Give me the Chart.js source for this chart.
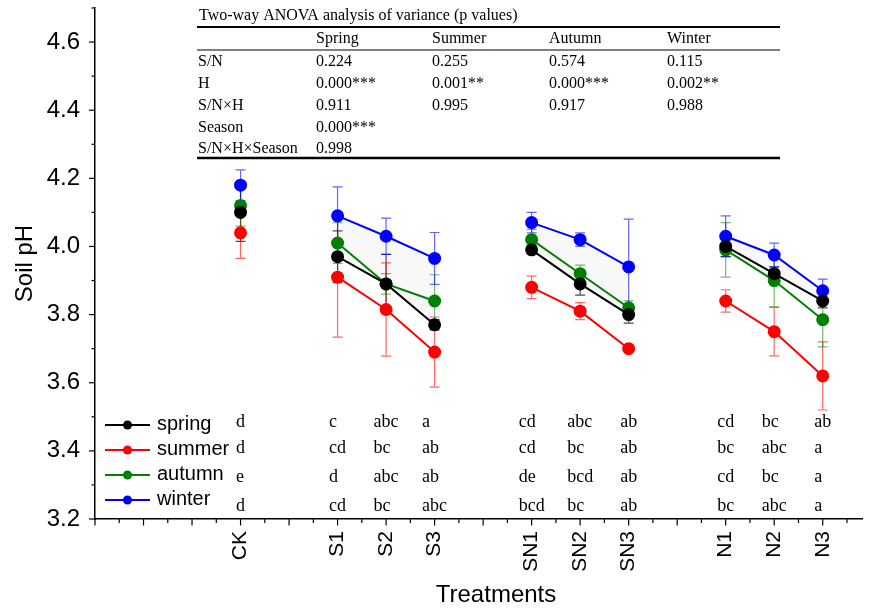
<!DOCTYPE html>
<html>
<head>
<meta charset="utf-8">
<script src="https://cdn.jsdelivr.net/npm/chart.js@4.4.0/dist/chart.umd.min.js"></script>
<style>
  html, body { margin: 0; padding: 0; background: #fff; }
  #wrap { width: 870px; height: 611px; position: relative; }
</style>
</head>
<body>
<div id="wrap"><canvas id="viz"></canvas></div>
<script>
// tick labels on the x axis (empty slots are the gaps between groups)
var xLabels = ['', '', '', 'CK', '', 'S1', 'S2', 'S3', '', 'SN1', 'SN2', 'SN3', '', 'N1', 'N2', 'N3', ''];
var treatments = ['CK', 'S1', 'S2', 'S3', 'SN1', 'SN2', 'SN3', 'N1', 'N2', 'N3'];

var seasons = ['spring', 'summer', 'autumn', 'winter'];
var seasonColors = ['#000000', '#ff0000', '#008000', '#0000ff'];
var barColors = ['rgba(0,0,0,0.7)', 'rgba(255,0,0,0.6)', 'rgba(0,128,0,0.55)', 'rgba(0,0,255,0.6)'];

var springPH = [4.10, 3.97, 3.89, 3.77, 3.99, 3.89, 3.80, 4.00, 3.92, 3.84];
var summerPH = [4.04, 3.91, 3.815, 3.69, 3.88, 3.81, 3.70, 3.84, 3.75, 3.62];
var autumnPH = [4.12, 4.01, 3.89, 3.84, 4.02, 3.92, 3.82, 3.99, 3.90, 3.785];
var winterPH = [4.18, 4.09, 4.03, 3.965, 4.07, 4.02, 3.94, 4.03, 3.975, 3.87];

var springErr = [0.085, 0.076, 0.087, 0.015, 0.012, 0.033, 0.025, 0.03, 0.02, 0.02];
var summerErr = [0.075, 0.176, 0.137, 0.103, 0.033, 0.025, 0.005, 0.033, 0.071, 0.10];
var autumnErr = [0.06, 0.06, 0.03, 0.077, 0.03, 0.025, 0.02, 0.08, 0.077, 0.08];
var winterErr = [0.045, 0.085, 0.053, 0.076, 0.03, 0.02, 0.14, 0.06, 0.035, 0.034];

// significance letters, one row per season
var springLetters = ['d', 'c', 'abc', 'a', 'cd', 'abc', 'ab', 'cd', 'bc', 'ab'];
var summerLetters = ['d', 'cd', 'bc', 'ab', 'cd', 'bc', 'ab', 'bc', 'abc', 'a'];
var autumnLetters = ['e', 'd', 'abc', 'ab', 'de', 'bcd', 'ab', 'cd', 'bc', 'a'];
var winterLetters = ['d', 'cd', 'bc', 'abc', 'bcd', 'bc', 'ab', 'bc', 'abc', 'a'];

var yTickValues = [3.2, 3.4, 3.6, 3.8, 4.0, 4.2, 4.4, 4.6];

var anovaTitle = 'Two-way ANOVA analysis of variance (p values)';
var anovaHeader = ['', 'Spring', 'Summer', 'Autumn', 'Winter'];
var anovaRows = [
    ['S/N', '0.224', '0.255', '0.574', '0.115'],
    ['H', '0.000***', '0.001**', '0.000***', '0.002**'],
    ['S/N\u00d7H', '0.911', '0.995', '0.917', '0.988'],
    ['Season', '0.000***', '', '', ''],
    ['S/N\u00d7H\u00d7Season', '0.998', '', '', '']
];

var SANS = "'Liberation Sans', Arial, sans-serif";
var SERIF = "'Liberation Serif', 'Times New Roman', serif";

function buildSeries(values, errs) {
    var pts = [], e = [], prev = null;
    treatments.forEach(function(t, i) {
        var x = xLabels.indexOf(t);
        if (prev !== null && x - prev > 1) {
            pts.push({x: x - 1, y: null});
            e.push(null);
        }
        pts.push({x: x, y: values[i]});
        e.push(errs[i]);
        prev = x;
    });
    return {pts: pts, errs: e};
}

var allValues = [springPH, summerPH, autumnPH, winterPH];
var allErrs = [springErr, summerErr, autumnErr, winterErr];
var allLetters = [springLetters, summerLetters, autumnLetters, winterLetters];

var datasets = seasons.map(function(name, k) {
    var s = buildSeries(allValues[k], allErrs[k]);
    var ds = {
        label: name,
        data: s.pts,
        errors: s.errs,
        borderColor: seasonColors[k],
        backgroundColor: seasonColors[k],
        pointBackgroundColor: seasonColors[k],
        pointBorderColor: seasonColors[k],
        pointRadius: 5.5,
        borderWidth: 2,
        spanGaps: false,
        fill: false
    };
    if (name === 'winter') {
        ds.fill = {target: 0};
        ds.backgroundColor = 'rgba(110,110,110,0.05)';
    }
    return ds;
});

var errorBars = {
    id: 'errorBars',
    beforeDatasetsDraw: function(chart) {
        var ctx = chart.ctx, y = chart.scales.y;
        ctx.save();
        chart.data.datasets.forEach(function(ds, k) {
            var meta = chart.getDatasetMeta(k);
            ctx.strokeStyle = barColors[k];
            ctx.lineWidth = 1.2;
            meta.data.forEach(function(pt, j) {
                var v = ds.data[j].y, e = ds.errors[j];
                if (v === null || e === null) return;
                var top = y.getPixelForValue(v + e), bot = y.getPixelForValue(v - e);
                ctx.beginPath();
                ctx.moveTo(pt.x, top); ctx.lineTo(pt.x, bot);
                ctx.moveTo(pt.x - 5, top); ctx.lineTo(pt.x + 5, top);
                ctx.moveTo(pt.x - 5, bot); ctx.lineTo(pt.x + 5, bot);
                ctx.stroke();
            });
        });
        ctx.restore();
    }
};

var decorations = {
    id: 'decorations',
    afterDraw: function(chart) {
        var ctx = chart.ctx, xs = chart.scales.x, ys = chart.scales.y, area = chart.chartArea;
        ctx.save();
        ctx.strokeStyle = '#000';
        ctx.lineWidth = 1.2;

        // y ticks: major every 0.2, minor every 0.1
        for (var t = 32; t <= 47; t++) {
            var py = ys.getPixelForValue(t / 10);
            var len = (t % 2 === 0) ? 6 : 3.5;
            ctx.beginPath();
            ctx.moveTo(area.left, py); ctx.lineTo(area.left - len, py);
            ctx.stroke();
        }
        // x ticks: major on every slot, minor halfway
        for (var u = 0; u <= 31; u++) {
            var px = xs.getPixelForValue(u / 2);
            if (px > area.right + 1) break;
            var l2 = (u % 2 === 0) ? 6.5 : 4;
            ctx.beginPath();
            ctx.moveTo(px, area.bottom); ctx.lineTo(px, area.bottom + l2);
            ctx.stroke();
        }

        // x axis title
        ctx.fillStyle = '#000';
        ctx.font = '24px ' + SANS;
        ctx.textAlign = 'center';
        ctx.textBaseline = 'middle';
        ctx.fillText('Treatments', 496, 595);

        // legend
        ctx.font = '20px ' + SANS;
        ctx.textAlign = 'left';
        var ly = [425, 450, 475, 500];
        seasons.forEach(function(name, k) {
            ctx.strokeStyle = seasonColors[k];
            ctx.fillStyle = seasonColors[k];
            ctx.lineWidth = 2;
            ctx.beginPath();
            ctx.moveTo(105, ly[k]); ctx.lineTo(150, ly[k]);
            ctx.stroke();
            ctx.beginPath();
            ctx.arc(127.5, ly[k], 4.5, 0, Math.PI * 2);
            ctx.fill();
            ctx.fillStyle = '#000';
            ctx.fillText(name, 157, ly[k] - 1);
        });

        // significance letters
        ctx.font = '18px ' + SERIF;
        ctx.fillStyle = '#000';
        var rowVals = [3.485, 3.408, 3.323, 3.238];
        treatments.forEach(function(t, i) {
            var cx = xs.getPixelForValue(xLabels.indexOf(t));
            var w = 0;
            allLetters.forEach(function(arr) { w = Math.max(w, ctx.measureText(arr[i]).width); });
            allLetters.forEach(function(arr, k) {
                ctx.fillText(arr[i], cx - w / 2, ys.getPixelForValue(rowVals[k]));
            });
        });

        // ANOVA table
        var colX = [198, 316, 432, 549, 667];
        var rowY = [62, 84, 106, 128, 149];
        ctx.font = '16px ' + SERIF;
        ctx.fillText(anovaTitle, 199, 16);
        anovaHeader.forEach(function(h, c) { ctx.fillText(h, colX[c], 39); });
        anovaRows.forEach(function(r, i) {
            r.forEach(function(cell, c) { ctx.fillText(cell, colX[c], rowY[i]); });
        });
        ctx.strokeStyle = '#000';
        ctx.lineWidth = 2;
        ctx.beginPath(); ctx.moveTo(197, 27); ctx.lineTo(780, 27); ctx.stroke();
        ctx.lineWidth = 1;
        ctx.beginPath(); ctx.moveTo(197, 50); ctx.lineTo(780, 50); ctx.stroke();
        ctx.lineWidth = 2.5;
        ctx.beginPath(); ctx.moveTo(197, 158); ctx.lineTo(780, 158); ctx.stroke();

        ctx.restore();
    }
};

var ctxV = document.getElementById('viz').getContext('2d');

var chart = new Chart(ctxV, {
    type: 'line',
    data: { datasets: datasets },
    plugins: [errorBars, decorations],
    options: {
        responsive: true,
        maintainAspectRatio: false,
        animation: false,
        layout: { padding: { top: 8, left: 0, right: 0, bottom: 0 } },
        plugins: { legend: { display: false }, tooltip: { enabled: false } },
        scales: {
            x: {
                type: 'linear',
                min: 0,
                max: 15.82,
                afterBuildTicks: function(scale) {
                    scale.ticks = xLabels.map(function(l, i) { return {value: i}; });
                },
                afterFit: function(scale) {
                    scale.height = 92;
                    scale.paddingLeft = 0;
                    scale.paddingRight = 0;
                },
                ticks: {
                    autoSkip: false,
                    minRotation: 90,
                    maxRotation: 90,
                    padding: 12,
                    color: '#000',
                    font: { family: SANS, size: 21 },
                    callback: function(v) { return xLabels[v] || ''; }
                },
                grid: { drawOnChartArea: false, drawTicks: false },
                border: { color: '#000', width: 1.5 }
            },
            y: {
                min: 3.2,
                max: 4.7,
                afterBuildTicks: function(scale) {
                    scale.ticks = yTickValues.map(function(v) { return {value: v}; });
                },
                afterFit: function(scale) {
                    scale.width = 95;
                    scale.paddingTop = 0;
                    scale.paddingBottom = 0;
                },
                ticks: {
                    padding: 15,
                    color: '#000',
                    font: { family: SANS, size: 24 },
                    callback: function(v) { return Number(v).toFixed(1); }
                },
                title: {
                    display: true,
                    text: 'Soil pH',
                    color: '#000',
                    font: { family: SANS, size: 24 },
                    padding: { top: 11, bottom: 0 }
                },
                grid: { drawOnChartArea: false, drawTicks: false },
                border: { color: '#000', width: 1.5 }
            }
        }
    }
});
</script>
</body>
</html>
